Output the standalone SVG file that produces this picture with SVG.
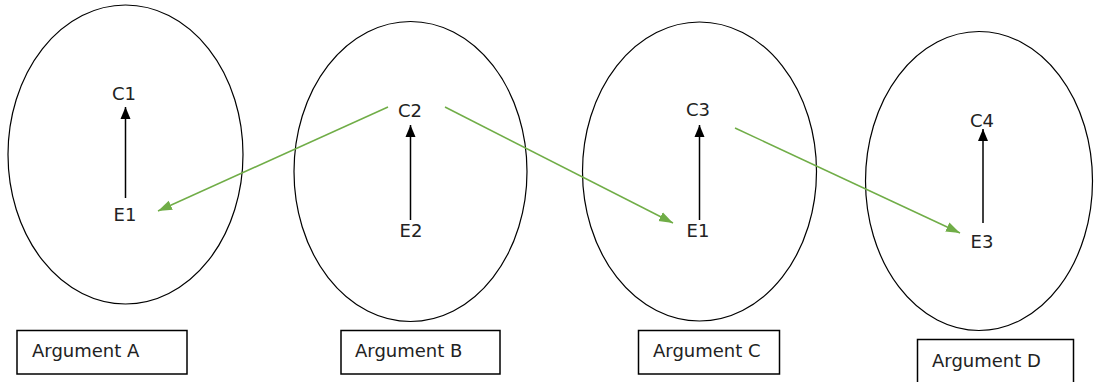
<svg xmlns="http://www.w3.org/2000/svg" width="1096" height="382" viewBox="0 0 1096 382">
  <style>
    .arg { fill: none; stroke: #000; stroke-width: 1.2; }
    .box { fill: #fff; stroke: #000; stroke-width: 1.5; }
    .lbl { font-family: "DejaVu Sans", "Liberation Sans", sans-serif; font-size: 18px; fill: #222; text-anchor: middle; }
    .blbl { font-family: "DejaVu Sans", "Liberation Sans", sans-serif; font-size: 18px; fill: #222; }
    .sup { stroke: #000; stroke-width: 1.5; fill: none; }
    .att { stroke: #70AD47; stroke-width: 1.5; fill: none; }
  </style>
  <defs>
    <marker id="blk" markerUnits="userSpaceOnUse" markerWidth="14" markerHeight="14" viewBox="0 0 14 14" refX="12" refY="7" orient="auto">
      <path d="M0,2 L12,7 L0,12 Z" fill="#000"/>
    </marker>
    <marker id="grn" markerUnits="userSpaceOnUse" markerWidth="15" markerHeight="13" viewBox="0 0 15 13" refX="14" refY="6.5" orient="auto">
      <path d="M0,1.5 L14,6.5 L0,11.5 Z" fill="#70AD47"/>
    </marker>
  </defs>

  <g id="argA">
    <ellipse class="arg" cx="125.5" cy="154.5" rx="117.5" ry="149.5"/>
    <text class="lbl" x="124" y="100">C1</text>
    <text class="lbl" x="125" y="221">E1</text>
  </g>
  <g id="argB">
    <ellipse class="arg" cx="410.5" cy="171.5" rx="116.5" ry="150"/>
    <text class="lbl" x="410" y="117">C2</text>
    <text class="lbl" x="411" y="237">E2</text>
  </g>
  <g id="argC">
    <ellipse class="arg" cx="699.5" cy="171.5" rx="117" ry="149.5"/>
    <text class="lbl" x="698" y="116">C3</text>
    <text class="lbl" x="698" y="237">E1</text>
  </g>
  <g id="argD">
    <ellipse class="arg" cx="979" cy="181" rx="113.5" ry="149.5"/>
    <text class="lbl" x="982" y="127">C4</text>
    <text class="lbl" x="982" y="248">E3</text>
  </g>

  <g id="labelA">
    <rect class="box" x="17" y="330.5" width="170" height="43.5"/>
    <text class="blbl" x="32" y="357">Argument A</text>
  </g>
  <g id="labelB">
    <rect class="box" x="341" y="330.5" width="159" height="43.5"/>
    <text class="blbl" x="355" y="357">Argument B</text>
  </g>
  <g id="labelC">
    <rect class="box" x="638.5" y="330.5" width="141" height="43.5"/>
    <text class="blbl" x="653" y="357">Argument C</text>
  </g>
  <g id="labelD">
    <rect class="box" x="917.5" y="339.5" width="156" height="46"/>
    <text class="blbl" x="932" y="367">Argument D</text>
  </g>

  <g id="connectors">
    <line class="sup" x1="125.5" y1="198" x2="125.5" y2="107" marker-end="url(#blk)"/>
    <line class="sup" x1="410.5" y1="220" x2="410.5" y2="125" marker-end="url(#blk)"/>
    <line class="sup" x1="699.5" y1="220" x2="699.5" y2="125" marker-end="url(#blk)"/>
    <line class="sup" x1="983" y1="223" x2="983" y2="129" marker-end="url(#blk)"/>
    <line class="att" x1="388" y1="107" x2="158" y2="211" marker-end="url(#grn)"/>
    <line class="att" x1="445" y1="107" x2="673" y2="223" marker-end="url(#grn)"/>
    <line class="att" x1="735" y1="128" x2="960" y2="233" marker-end="url(#grn)"/>
  </g>
</svg>
